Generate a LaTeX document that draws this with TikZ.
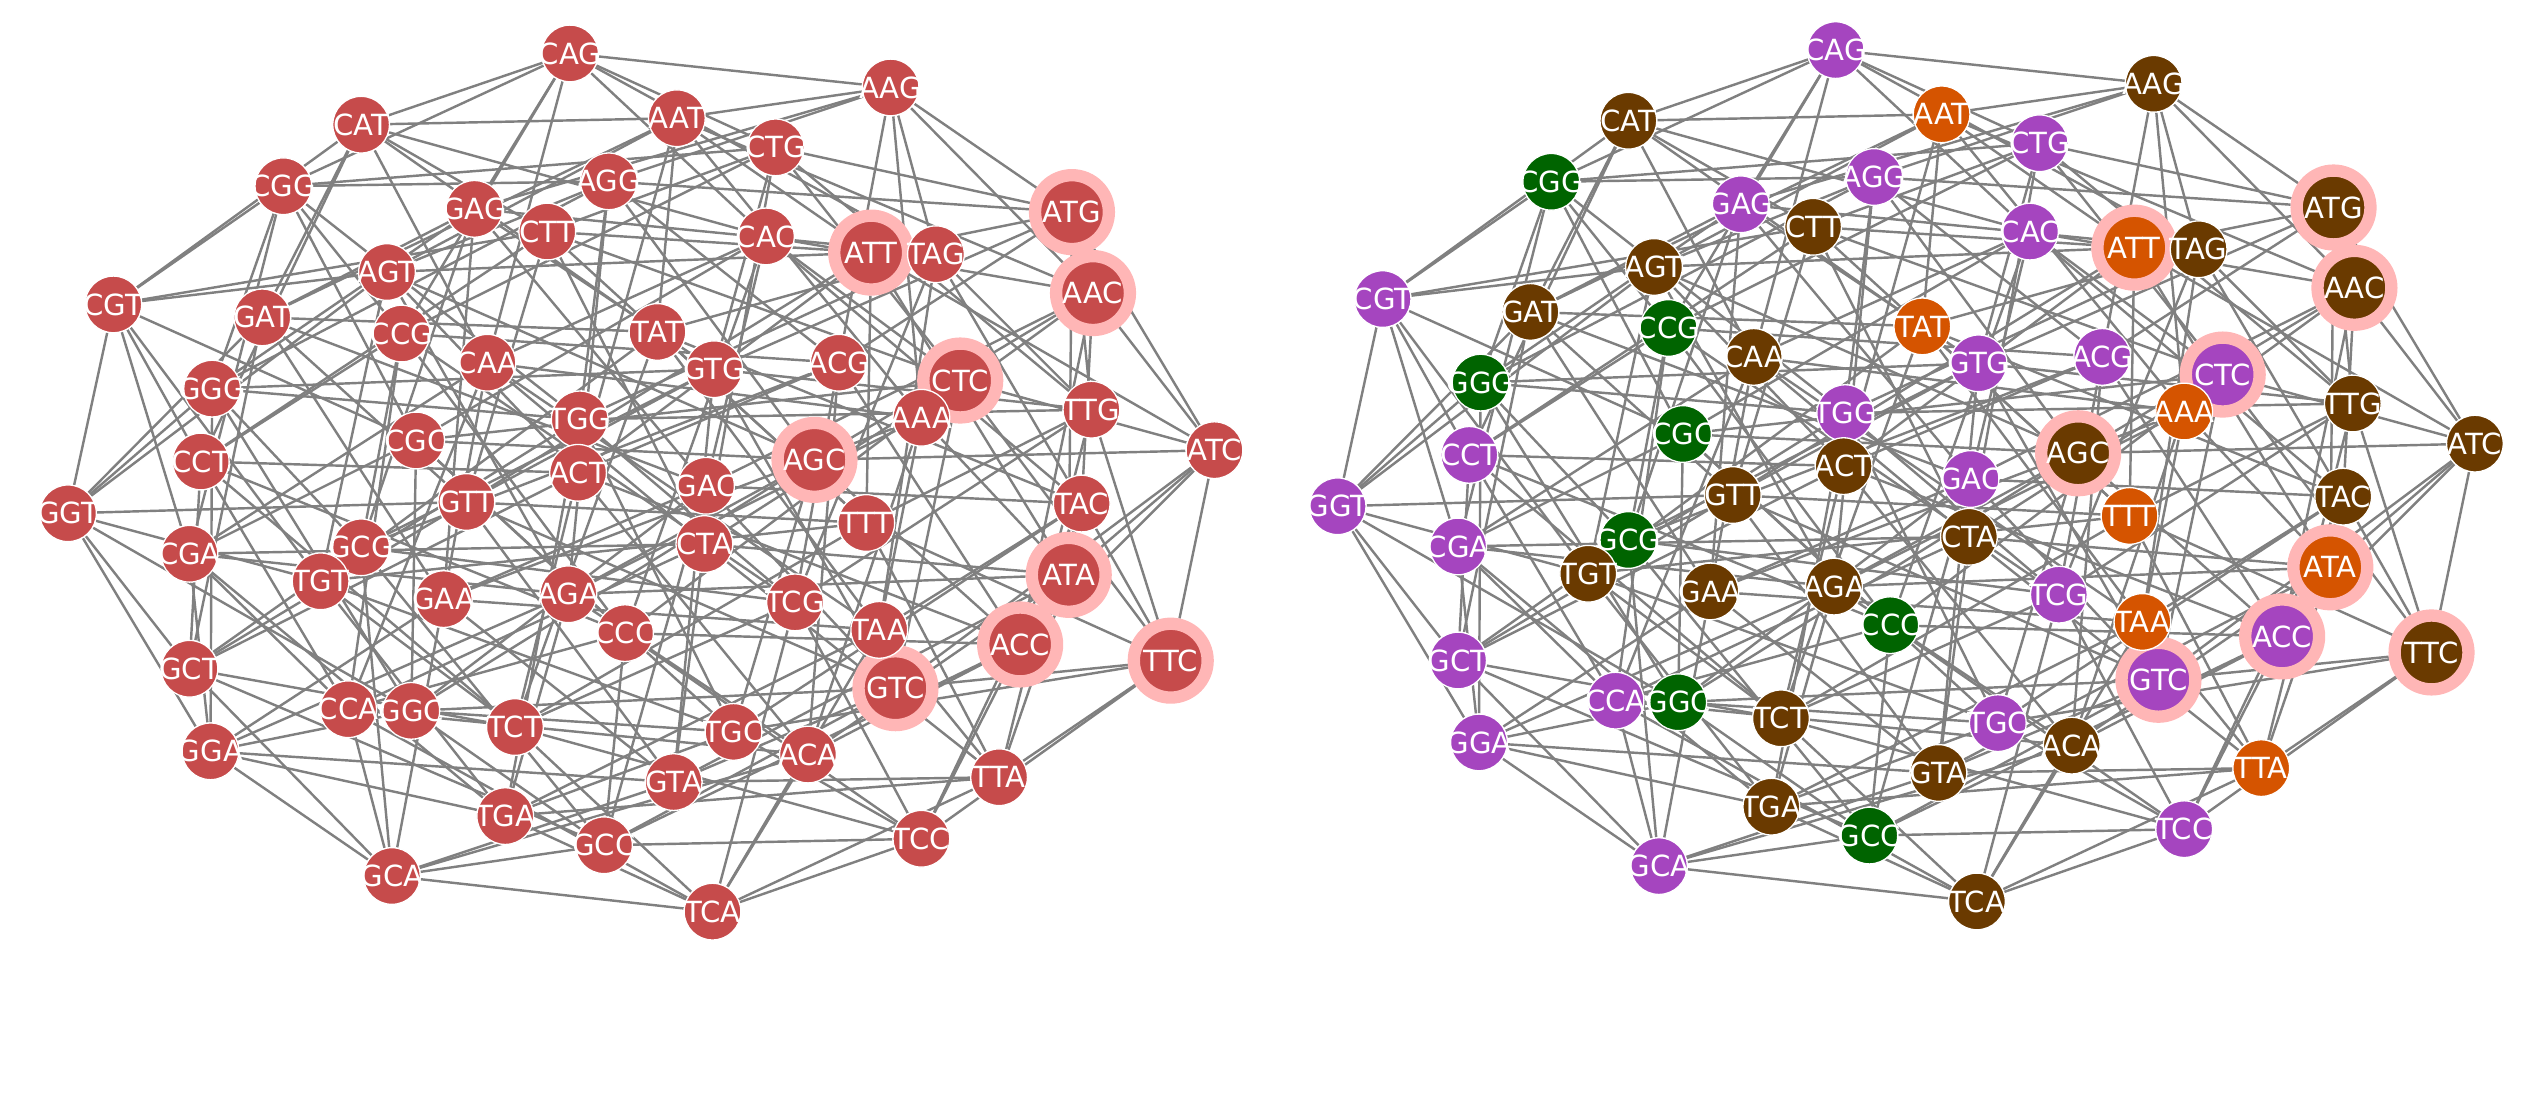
\documentclass[tikz,border=0pt]{standalone}
\usepackage{fontspec}
\setmainfont{DejaVu Sans}
\usepackage{mathtools}
\usetikzlibrary{backgrounds}
\usepackage{xcolor}
\definecolor{codonred}{HTML}{C64B4B}
\definecolor{ringpink}{HTML}{FFB6B6}
\definecolor{pur}{HTML}{A545BF}
\definecolor{brn}{HTML}{6A3A00}
\definecolor{org}{HTML}{D55400}
\definecolor{grn}{HTML}{006400}
\newcommand\nucl[1]{\ifcase#1\or A\or C\or G\or T\fi}
\def\hublist{ATG/662/131/brn,ATT/538/156/org,AAC/675/181/brn,CTC/593/235/pur,AGC/503/284/brn,%
ATA/660/355/org,ACC/630/398/pur,TTC/723/408/brn,GTC/553/425/pur}
\def\codonlist{CAG/352/33/pur,AAG/550/54/brn,CAT/223/77/brn,AAT/418/73/org,CTG/479/91/pur,%
CGG/175/115/grn,AGG/376/112/pur,GAG/293/129/pur,CTT/338/143/brn,CAC/473/146/pur,%
TAG/578/157/brn,AGT/239/168/brn,CGT/70/188/pur,GAT/162/196/brn,CCG/248/206/grn,%
TAT/406/205/org,CAA/301/224/brn,ACG/518/224/pur,GTG/441/228/pur,GGG/131/240/grn,%
TGG/358/259/pur,AAA/569/258/org,TTG/674/253/brn,CGC/257/272/grn,ATC/750/278/brn,%
CCT/124/285/pur,ACT/357/292/brn,GTT/288/310/brn,GAC/436/300/pur,TTT/535/323/org,%
GGT/42/317/pur,TAC/668/311/brn,CGA/117/342/pur,GCG/223/338/grn,CTA/435/336/brn,%
TGT/198/359/brn,GAA/274/370/brn,AGA/351/367/brn,TCG/491/372/pur,CCC/386/391/grn,%
TAA/543/389/org,GCT/117/413/pur,CCA/215/438/pur,GGC/254/439/grn,TCT/318/449/brn,%
TGC/453/452/pur,ACA/499/466/brn,GGA/130/464/pur,GTA/416/483/brn,TTA/617/480/org,%
TGA/312/504/brn,GCC/373/522/grn,TCC/569/518/pur,GCA/242/541/pur,TCA/440/563/brn}

\begin{document}
\begin{tikzpicture}[x=0.5pt,y=-0.5pt,
    codon/.style={circle,draw=white,line width=0.4pt,minimum size=17.5pt,inner sep=0pt,
      text=white,font=\fontsize{9}{9}\selectfont},
    hub/.style={codon,draw=ringpink,line width=3.8pt,minimum size=22.8pt},
    link/.style={gray,line width=0.75pt}]
    \useasboundingbox (0,0) rectangle (1568,678);
    \foreach \n/\x/\y/\c in \hublist \node[hub,fill=codonred] (L\n) at (\x,\y) {\clap{\n}};
    \foreach \n/\x/\y/\c in \codonlist \node[codon,fill=codonred] (L\n) at (\x,\y) {\clap{\n}};
    \begin{scope}[shift={(784.4,-1.8)},scale=0.992]
        \foreach \n/\x/\y/\c in \hublist \node[hub,fill=\c] (R\n) at (\x,\y) {\clap{\n}};
        \foreach \n/\x/\y/\c in \codonlist \node[codon,fill=\c] (R\n) at (\x,\y) {\clap{\n}};
    \end{scope}
    \begin{pgfonlayer}{background}
    \foreach \i in {1,...,4} \foreach \j in {1,...,4} \foreach \k in {1,...,4} \foreach \m in {1,...,4} {
        \edef\here{\nucl\i\nucl\j\nucl\k}
        \ifnum\m>\i\relax \edef\there{\nucl\m\nucl\j\nucl\k}\draw[link] (L\here) -- (L\there) (R\here) -- (R\there);\fi
        \ifnum\m>\j\relax \edef\there{\nucl\i\nucl\m\nucl\k}\draw[link] (L\here) -- (L\there) (R\here) -- (R\there);\fi
        \ifnum\m>\k\relax \edef\there{\nucl\i\nucl\j\nucl\m}\draw[link] (L\here) -- (L\there) (R\here) -- (R\there);\fi
    }
    \end{pgfonlayer}
\end{tikzpicture}
\end{document}
